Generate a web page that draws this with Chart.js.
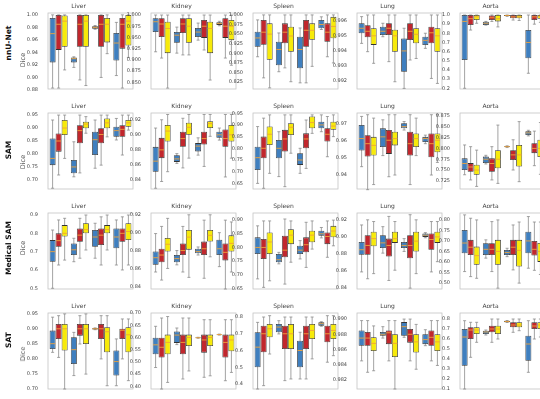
<!DOCTYPE html>
<html>
<head>
<meta charset="utf-8">
<script src="https://cdn.jsdelivr.net/npm/chart.js@4.4.0/dist/chart.umd.min.js"></script>
<style>
body { margin: 0; width: 540px; height: 399px; overflow: hidden; background: #fff; position: relative; font-family: "DejaVu Sans", sans-serif; }
canvas { position: absolute; }
.side { position: absolute; white-space: nowrap; transform: translate(-50%, -50%) rotate(-90deg); }
.rowlab { font-weight: bold; font-size: 7.5px; color: #111; }
.dice { font-size: 6.5px; color: #555; }
</style>
</head>
<body>
<script>
// age groups on every x axis
var ageGroups = ['20-30', '30-40', '40-50', '50-60'];
var organs = ['Liver', 'Kidney', 'Spleen', 'Lung', 'Aorta'];
var models = ['nnU-Net', 'SAM', 'Medical SAM', 'SAT'];

// each box is [lower whisker, q1, median, q3, upper whisker]
// blue / red / yellow are the three boxes of every age group
var nnunetLiver = { ticks: ['1.00','0.98','0.96','0.94','0.92','0.90','0.88'], min: 0.8815, max: 1.003,
	blue:   [[0.883,0.924,0.970,0.995,1.000],[0.916,0.924,0.930,0.932,0.933],[0.977,0.978,0.980,0.982,0.983],[0.903,0.927,0.955,0.971,0.988]],
	red:    [[0.883,0.944,0.985,1.000,1.000],[0.896,0.949,0.985,1.000,1.000],[0.900,0.949,0.985,1.000,1.000],[0.883,0.946,0.985,0.995,1.000]],
	yellow: [[0.912,0.949,0.990,0.999,1.000],[0.887,0.949,0.990,1.000,1.000],[0.938,0.956,0.985,0.995,1.000],[0.932,0.951,0.990,1.000,1.000]] };
var nnunetKidney = { ticks: ['1.000','0.975','0.950','0.925','0.900','0.875','0.850'], min: 0.835, max: 1.0045,
	blue:   [[0.918,0.962,0.985,0.993,1.000],[0.915,0.938,0.955,0.962,0.973],[0.944,0.951,0.962,0.971,0.982],[0.976,0.978,0.981,0.984,0.986]],
	red:    [[0.904,0.951,0.980,0.993,1.000],[0.911,0.960,0.980,0.993,1.000],[0.922,0.949,0.975,0.989,1.000],[0.904,0.949,0.975,0.993,1.000]],
	yellow: [[0.837,0.915,0.970,0.985,1.000],[0.911,0.938,0.975,0.993,1.000],[0.855,0.915,0.970,0.985,1.000],[0.888,0.944,0.975,0.989,1.000]] };
var nnunetSpleen = { ticks: ['1.000','0.975','0.950','0.925','0.900','0.875','0.850','0.825'], min: 0.807, max: 1.005,
	blue:   [[0.891,0.917,0.940,0.956,0.987],[0.852,0.869,0.910,0.930,0.953],[0.823,0.861,0.910,0.943,0.966],[0.962,0.965,0.975,0.987,0.995]],
	red:    [[0.836,0.922,0.955,0.987,1.000],[0.862,0.926,0.955,0.978,1.000],[0.823,0.917,0.960,0.987,1.000],[0.891,0.930,0.955,0.978,1.000]],
	yellow: [[0.810,0.883,0.950,0.978,1.000],[0.826,0.904,0.945,0.969,1.000],[0.866,0.935,0.960,0.978,1.000],[0.875,0.939,0.970,0.995,1.000]] };
var nnunetLung = { ticks: ['0.996','0.995','0.994','0.993','0.992'], min: 0.99148, max: 0.99651,
	blue:   [[0.99450,0.99517,0.99550,0.99583,0.99627],[0.99494,0.99505,0.99530,0.99560,0.99583],[0.99152,0.99262,0.99400,0.99483,0.99550],[0.99417,0.99439,0.99470,0.99494,0.99517]],
	red:    [[0.99395,0.99490,0.99530,0.99570,0.99638],[0.99329,0.99505,0.99550,0.99583,0.99638],[0.99340,0.99472,0.99530,0.99583,0.99638],[0.99218,0.99450,0.99520,0.99560,0.99638]],
	yellow: [[0.99318,0.99440,0.99500,0.99550,0.99638],[0.99196,0.99395,0.99500,0.99540,0.99638],[0.99350,0.99450,0.99510,0.99550,0.99638],[0.99185,0.99395,0.99500,0.99550,0.99638]] };
var nnunetAorta = { ticks: ['1.0','0.9','0.8','0.7','0.6','0.5','0.4','0.3','0.2'], min: 0.192, max: 1.022,
	blue:   [[0.200,0.509,0.930,1.000,1.000],[0.890,0.890,0.910,0.927,0.930],[0.985,0.990,0.995,1.000,1.000],[0.364,0.527,0.700,0.836,1.000]],
	red:    [[0.836,0.890,0.960,1.000,1.000],[0.930,0.945,0.970,0.995,1.000],[0.945,0.964,0.980,1.000,1.000],[0.900,0.945,0.980,1.000,1.000]],
	yellow: [[0.910,0.945,0.980,1.000,1.000],[0.870,0.930,0.960,1.000,1.000],[0.940,0.964,0.980,1.000,1.000],[0.920,0.960,0.985,1.000,1.000]] };

var samLiver = { ticks: ['0.95','0.90','0.85','0.80','0.75','0.70'], min: 0.665, max: 0.958,
	blue:   [[0.668,0.757,0.783,0.860,0.931],[0.712,0.726,0.750,0.777,0.847],[0.745,0.796,0.855,0.886,0.931],[0.854,0.866,0.890,0.905,0.937]],
	red:    [[0.719,0.809,0.850,0.879,0.950],[0.727,0.841,0.890,0.911,0.950],[0.757,0.841,0.875,0.899,0.950],[0.796,0.866,0.895,0.911,0.950]],
	yellow: [[0.783,0.873,0.900,0.931,0.950],[0.880,0.899,0.915,0.924,0.944],[0.866,0.899,0.920,0.937,0.950],[0.892,0.905,0.920,0.931,0.950]] };
var samKidney = { ticks: ['0.92','0.90','0.88','0.86','0.84'], min: 0.828, max: 0.929,
	blue:   [[0.829,0.851,0.865,0.884,0.909],[0.862,0.864,0.868,0.873,0.875],[0.873,0.878,0.885,0.889,0.896],[0.893,0.896,0.900,0.904,0.909]],
	red:    [[0.838,0.869,0.880,0.896,0.920],[0.856,0.884,0.895,0.904,0.922],[0.858,0.887,0.895,0.904,0.927],[0.844,0.884,0.895,0.907,0.927]],
	yellow: [[0.851,0.891,0.905,0.913,0.927],[0.869,0.900,0.910,0.916,0.927],[0.898,0.909,0.915,0.918,0.927],[0.869,0.891,0.900,0.913,0.927]] };
var samSpleen = { ticks: ['0.95','0.90','0.85','0.80','0.75','0.70','0.65'], min: 0.626, max: 0.951,
	blue:   [[0.650,0.707,0.760,0.807,0.893],[0.679,0.757,0.800,0.836,0.871],[0.693,0.729,0.750,0.779,0.800],[0.871,0.886,0.900,0.914,0.943]],
	red:    [[0.629,0.757,0.800,0.850,0.929],[0.636,0.786,0.840,0.879,0.943],[0.714,0.800,0.840,0.864,0.921],[0.764,0.829,0.860,0.886,0.936]],
	yellow: [[0.693,0.814,0.860,0.893,0.943],[0.779,0.857,0.890,0.907,0.943],[0.864,0.886,0.910,0.936,0.943],[0.850,0.879,0.895,0.914,0.943]] };
var samLung = { ticks: ['0.97','0.96','0.95','0.94'], min: 0.9314, max: 0.976,
	blue:   [[0.9445,0.954,0.961,0.969,0.974],[0.951,0.956,0.962,0.967,0.972],[0.966,0.967,0.968,0.970,0.971],[0.958,0.959,0.961,0.962,0.963]],
	red:    [[0.931,0.9504,0.958,0.963,0.975],[0.9386,0.952,0.960,0.966,0.975],[0.934,0.951,0.958,0.965,0.975],[0.9396,0.950,0.958,0.964,0.975]],
	yellow: [[0.934,0.951,0.957,0.962,0.973],[0.9396,0.957,0.961,0.965,0.975],[0.951,0.956,0.961,0.964,0.973],[0.947,0.953,0.960,0.964,0.975]] };
var samAorta = { ticks: ['0.875','0.850','0.825','0.800','0.775','0.750','0.725'], min: 0.706, max: 0.882,
	blue:   [[0.739,0.750,0.765,0.777,0.808],[0.764,0.766,0.775,0.781,0.784],[0.802,0.803,0.804,0.805,0.806],[0.829,0.831,0.836,0.840,0.842]],
	red:    [[0.727,0.746,0.757,0.766,0.804],[0.727,0.746,0.765,0.777,0.804],[0.750,0.773,0.785,0.796,0.820],[0.760,0.789,0.800,0.812,0.840]],
	yellow: [[0.712,0.739,0.750,0.762,0.796],[0.719,0.754,0.775,0.796,0.854],[0.723,0.758,0.785,0.808,0.862],[0.740,0.780,0.800,0.820,0.860]] };

var medLiver = { ticks: ['0.9','0.8','0.7','0.6','0.5'], min: 0.496, max: 0.911,
	blue:   [[0.500,0.645,0.700,0.763,0.818],[0.645,0.682,0.710,0.745,0.773],[0.664,0.727,0.780,0.818,0.855],[0.627,0.718,0.780,0.827,0.873]],
	red:    [[0.627,0.727,0.760,0.800,0.873],[0.664,0.754,0.790,0.827,0.882],[0.627,0.736,0.790,0.827,0.890],[0.600,0.754,0.800,0.827,0.890]],
	yellow: [[0.654,0.782,0.800,0.845,0.882],[0.709,0.800,0.820,0.855,0.900],[0.709,0.800,0.820,0.845,0.900],[0.627,0.763,0.810,0.855,0.900]] };
var medKidney = { ticks: ['0.92','0.90','0.88','0.86','0.84'], min: 0.837, max: 0.922,
	blue:   [[0.856,0.864,0.872,0.879,0.899],[0.864,0.867,0.871,0.875,0.880],[0.875,0.877,0.879,0.882,0.884],[0.862,0.875,0.882,0.892,0.900]],
	red:    [[0.847,0.867,0.875,0.882,0.907],[0.856,0.875,0.880,0.888,0.907],[0.849,0.875,0.882,0.890,0.914],[0.837,0.869,0.878,0.888,0.914]],
	yellow: [[0.860,0.879,0.887,0.894,0.916],[0.850,0.881,0.895,0.903,0.920],[0.873,0.890,0.897,0.903,0.920],[0.856,0.879,0.888,0.897,0.912]] };
var medSpleen = { ticks: ['0.90','0.85','0.80','0.75','0.70','0.65'], min: 0.648, max: 0.926,
	blue:   [[0.685,0.776,0.800,0.837,0.879],[0.740,0.746,0.755,0.776,0.782],[0.758,0.776,0.790,0.806,0.825],[0.835,0.843,0.850,0.861,0.873]],
	red:    [[0.654,0.758,0.800,0.831,0.897],[0.666,0.764,0.790,0.843,0.904],[0.727,0.782,0.810,0.837,0.892],[0.764,0.812,0.840,0.855,0.897]],
	yellow: [[0.678,0.776,0.820,0.855,0.897],[0.746,0.812,0.845,0.867,0.897],[0.794,0.819,0.845,0.861,0.897],[0.806,0.837,0.860,0.879,0.900]] };
var medLung = { ticks: ['0.92','0.90','0.88','0.86','0.84'], min: 0.839, max: 0.928,
	blue:   [[0.859,0.879,0.885,0.894,0.914],[0.881,0.887,0.893,0.902,0.912],[0.883,0.887,0.890,0.894,0.898],[0.899,0.900,0.902,0.904,0.905]],
	red:    [[0.851,0.879,0.890,0.902,0.920],[0.849,0.877,0.890,0.898,0.924],[0.840,0.875,0.890,0.902,0.926],[0.859,0.885,0.897,0.904,0.918]],
	yellow: [[0.857,0.889,0.898,0.906,0.918],[0.861,0.893,0.898,0.906,0.918],[0.857,0.883,0.895,0.906,0.920],[0.871,0.893,0.900,0.906,0.918]] };
var medAorta = { ticks: ['0.80','0.75','0.70','0.65','0.60','0.55','0.50'], min: 0.471, max: 0.833,
	blue:   [[0.554,0.641,0.690,0.752,0.824],[0.618,0.633,0.660,0.689,0.705],[0.625,0.633,0.645,0.657,0.665],[0.570,0.641,0.700,0.744,0.816]],
	red:    [[0.530,0.633,0.670,0.705,0.808],[0.554,0.633,0.660,0.689,0.792],[0.562,0.633,0.670,0.705,0.776],[0.560,0.630,0.660,0.700,0.790]],
	yellow: [[0.522,0.586,0.630,0.673,0.800],[0.475,0.586,0.650,0.705,0.800],[0.499,0.578,0.655,0.705,0.790],[0.540,0.600,0.650,0.690,0.790]] };

var satLiver = { ticks: ['0.95','0.90','0.85','0.80','0.75','0.70'], min: 0.698, max: 0.953,
	blue:   [[0.821,0.832,0.850,0.894,0.939],[0.743,0.782,0.830,0.872,0.888],[0.897,0.898,0.900,0.902,0.903],[0.709,0.743,0.790,0.827,0.866]],
	red:    [[0.804,0.866,0.900,0.916,0.944],[0.849,0.877,0.900,0.916,0.944],[0.799,0.866,0.900,0.916,0.944],[0.799,0.866,0.895,0.900,0.933]],
	yellow: [[0.698,0.827,0.900,0.916,0.950],[0.748,0.849,0.900,0.916,0.950],[0.709,0.821,0.890,0.905,0.944],[0.726,0.821,0.880,0.905,0.933]] };
var satKidney = { ticks: ['0.70','0.65','0.60','0.55','0.50','0.45','0.40'], min: 0.389, max: 0.7005,
	blue:   [[0.477,0.531,0.570,0.599,0.646],[0.571,0.578,0.610,0.625,0.639],[0.597,0.598,0.599,0.600,0.601],[0.610,0.611,0.612,0.613,0.614]],
	red:    [[0.389,0.518,0.560,0.599,0.680],[0.430,0.531,0.580,0.612,0.680],[0.437,0.538,0.590,0.612,0.673],[0.423,0.518,0.580,0.612,0.673]],
	yellow: [[0.416,0.531,0.580,0.612,0.686],[0.463,0.565,0.600,0.612,0.680],[0.443,0.565,0.600,0.612,0.673],[0.457,0.544,0.590,0.612,0.673]] };
var satSpleen = { ticks: ['0.8','0.7','0.6','0.5','0.4'], min: 0.37, max: 0.824,
	blue:   [[0.370,0.500,0.620,0.709,0.768],[0.699,0.709,0.740,0.758,0.778],[0.430,0.500,0.600,0.658,0.709],[0.745,0.748,0.760,0.768,0.772]],
	red:    [[0.390,0.589,0.700,0.748,0.800],[0.420,0.609,0.700,0.748,0.800],[0.430,0.609,0.700,0.748,0.800],[0.530,0.649,0.700,0.748,0.808]],
	yellow: [[0.579,0.679,0.730,0.758,0.808],[0.430,0.609,0.700,0.758,0.800],[0.550,0.669,0.720,0.758,0.800],[0.569,0.669,0.720,0.758,0.808]] };
var satLung = { ticks: ['0.990','0.988','0.986','0.984','0.982'], min: 0.9808, max: 0.9908,
	blue:   [[0.9845,0.9865,0.9875,0.9885,0.9898],[0.9875,0.9878,0.9880,0.9883,0.9890],[0.9876,0.9878,0.9890,0.9896,0.9900],[0.9865,0.9867,0.9873,0.9880,0.9886]],
	red:    [[0.9830,0.9865,0.9875,0.9883,0.9898],[0.9845,0.9867,0.9882,0.9885,0.9898],[0.9845,0.9869,0.9880,0.9887,0.9900],[0.9845,0.9865,0.9876,0.9885,0.9898]],
	yellow: [[0.9832,0.9858,0.9868,0.9876,0.9891],[0.9808,0.9850,0.9868,0.9880,0.9898],[0.9834,0.9856,0.9870,0.9880,0.9893],[0.9839,0.9858,0.9870,0.9880,0.9898]] };
var satAorta = { ticks: ['0.8','0.7','0.6','0.5','0.4','0.3','0.2','0.1'], min: 0.10, max: 0.86,
	blue:   [[0.100,0.333,0.620,0.700,0.783],[0.640,0.650,0.670,0.683,0.690],[0.765,0.767,0.775,0.783,0.785],[0.267,0.383,0.550,0.633,0.783]],
	red:    [[0.417,0.600,0.690,0.717,0.767],[0.567,0.667,0.700,0.733,0.800],[0.667,0.717,0.740,0.767,0.800],[0.600,0.700,0.730,0.767,0.800]],
	yellow: [[0.567,0.650,0.690,0.717,0.767],[0.600,0.650,0.700,0.733,0.800],[0.683,0.717,0.740,0.767,0.800],[0.620,0.700,0.740,0.767,0.800]] };

var panels = [
	[nnunetLiver, nnunetKidney, nnunetSpleen, nnunetLung, nnunetAorta],
	[samLiver, samKidney, samSpleen, samLung, samAorta],
	[medLiver, medKidney, medSpleen, medLung, medAorta],
	[satLiver, satKidney, satSpleen, satLung, satAorta]
];

var boxColors = ['#3f7fbf', '#c1272d', '#f7ea0a'];
var spineX = [48, 151, 253, 357, 460]; // left edge of each plot area
var plotW = 85;
var axisW = 24;
var rowLabelY = [43, 150, 248, 340];
var diceY = [60, 162, 248, 354];

// whiskers, caps, medians and the light frame, all placed through the chart scales
var boxParts = {
	id: 'boxParts',
	beforeDatasetsDraw: function(chart) {
		var ctx = chart.ctx, ys = chart.scales.y, a = chart.chartArea;
		ctx.save();
		ctx.strokeStyle = '#c4c4c4';
		ctx.lineWidth = 0.8;
		ctx.strokeRect(a.left, a.top, a.right - a.left, a.bottom - a.top);
		ctx.strokeStyle = '#8c8c8c';
		chart.data.datasets.forEach(function(ds, i) {
			chart.getDatasetMeta(i).data.forEach(function(bar, j) {
				var s = ds.stats[j];
				var lo = ys.getPixelForValue(s[0]), hi = ys.getPixelForValue(s[4]);
				var hw = bar.width / 4;
				ctx.beginPath();
				ctx.moveTo(bar.x, lo); ctx.lineTo(bar.x, hi);
				ctx.moveTo(bar.x - hw, lo); ctx.lineTo(bar.x + hw, lo);
				ctx.moveTo(bar.x - hw, hi); ctx.lineTo(bar.x + hw, hi);
				ctx.stroke();
			});
		});
		ctx.restore();
	},
	afterDatasetsDraw: function(chart) {
		var ctx = chart.ctx, ys = chart.scales.y;
		ctx.save();
		ctx.strokeStyle = '#f0a33a';
		ctx.lineWidth = 0.9;
		chart.data.datasets.forEach(function(ds, i) {
			chart.getDatasetMeta(i).data.forEach(function(bar, j) {
				var m = ys.getPixelForValue(ds.stats[j][2]);
				ctx.beginPath();
				ctx.moveTo(bar.x - bar.width / 2 + 0.5, m);
				ctx.lineTo(bar.x + bar.width / 2 - 0.5, m);
				ctx.stroke();
			});
		});
		ctx.restore();
	}
};

var makePanel = function(r, c) {
	var p = panels[r][c];
	var canvas = document.createElement('canvas');
	canvas.width = axisW + plotW + axisW;
	canvas.height = 100;
	canvas.style.left = (spineX[c] - axisW) + 'px';
	canvas.style.top = (r * 100) + 'px';
	document.body.appendChild(canvas);
	var tickVals = p.ticks.map(function(t) { return parseFloat(t); });
	var datasets = ['blue', 'red', 'yellow'].map(function(key, k) {
		return {
			data: p[key].map(function(s) { return [s[1], s[3]]; }),
			stats: p[key],
			backgroundColor: boxColors[k],
			borderColor: '#333',
			borderWidth: 0.8,
			borderSkipped: false
		};
	});
	new Chart(canvas, {
		type: 'bar',
		data: { labels: ageGroups, datasets: datasets },
		plugins: [boxParts],
		options: {
			responsive: false,
			animation: false,
			devicePixelRatio: 1,
			layout: { padding: { left: 0, right: axisW, top: 0, bottom: 0 } },
			datasets: { bar: { categoryPercentage: 0.85, barPercentage: 1 } },
			plugins: {
				legend: { display: false },
				tooltip: { enabled: false },
				title: { display: true, text: organs[c], color: '#444',
					font: { size: 6, family: 'DejaVu Sans', weight: 'normal' },
					padding: { top: 2.5, bottom: 3.3 } }
			},
			scales: {
				x: {
					grid: { display: false },
					border: { display: false },
					ticks: { font: { size: 5, family: 'DejaVu Sans' }, color: '#444', padding: 3, maxRotation: 0, autoSkip: false },
					afterFit: function(s) { s.height = 11; }
				},
				y: {
					min: p.min,
					max: p.max,
					grid: { display: false },
					border: { display: false },
					ticks: {
						font: { size: 5, family: 'DejaVu Sans' }, color: '#444', padding: 2, autoSkip: false,
						callback: function(v, i) { return p.ticks[i]; }
					},
					afterBuildTicks: function(s) { s.ticks = tickVals.map(function(v) { return { value: v }; }); },
					afterFit: function(s) { s.width = axisW; }
				}
			}
		}
	});
};

var addSideLabel = function(text, cls, x, y) {
	var d = document.createElement('div');
	d.className = 'side ' + cls;
	d.textContent = text;
	d.style.left = x + 'px';
	d.style.top = y + 'px';
	document.body.appendChild(d);
};

for (var r = 0; r < models.length; r++) {
	for (var c = 0; c < organs.length; c++) makePanel(r, c);
	addSideLabel(models[r], 'rowlab', 8, rowLabelY[r]);
	addSideLabel('Dice', 'dice', 23, diceY[r]);
}
</script>
</body>
</html>
